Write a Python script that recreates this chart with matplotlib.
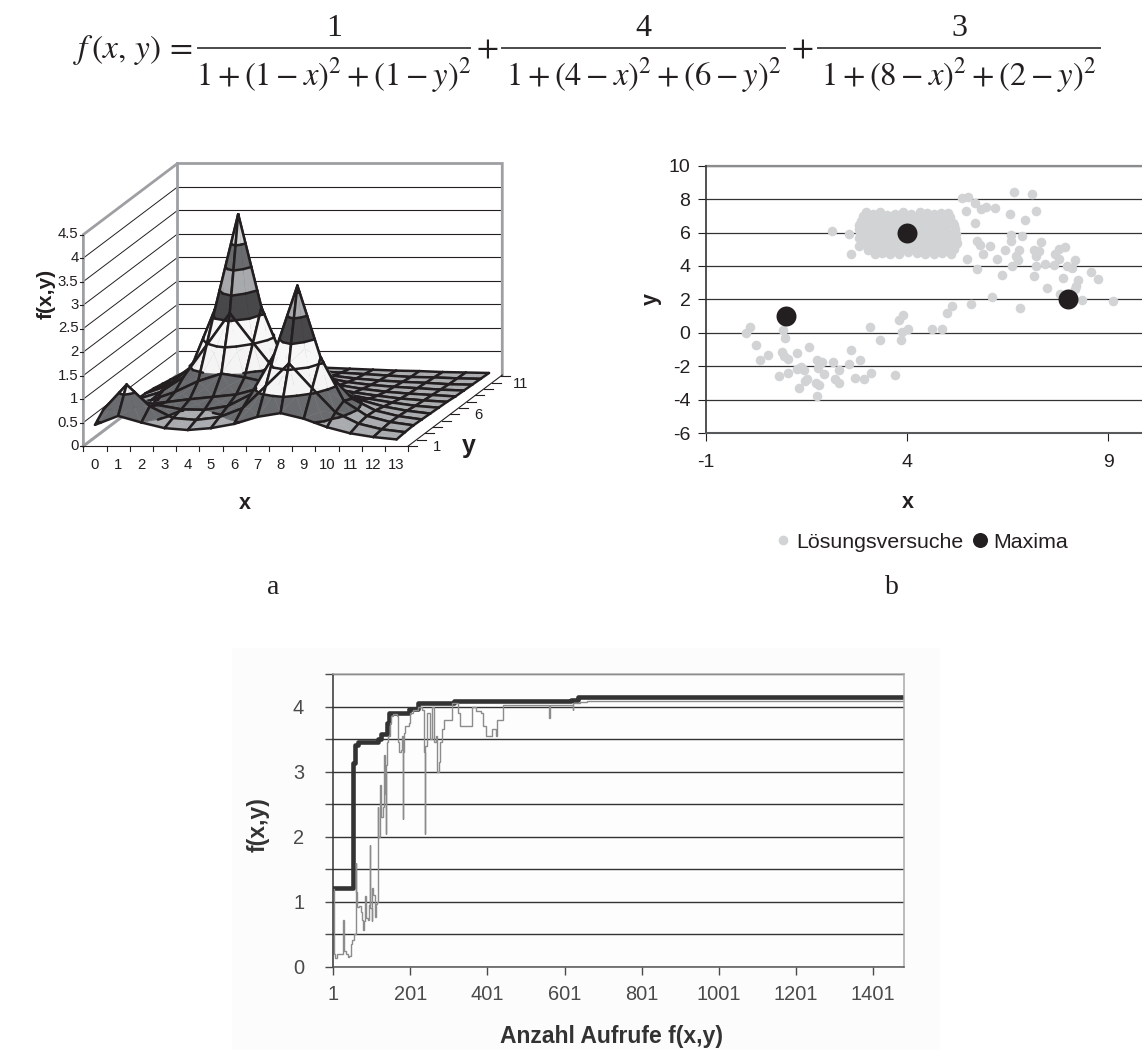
import matplotlib
matplotlib.use("Agg")
import matplotlib.pyplot as plt
import matplotlib.patches as patches
from matplotlib.collections import PolyCollection, LineCollection
from matplotlib.lines import Line2D

W, H = 1142, 1050
plt.rcParams['font.family'] = ['Liberation Sans', 'DejaVu Sans']
plt.rcParams['mathtext.fontset'] = 'stix'
plt.rcParams['axes.unicode_minus'] = False

# formula above the panels
eq_lhs = r'$f\,\left(x,\,y\right)\,=$'
eq_numer = ['1', '4', '3']
eq_denom = [r'$1+\left(1-x\right)^2+\left(1-y\right)^2$',
            r'$1+\left(4-x\right)^2+\left(6-y\right)^2$',
            r'$1+\left(8-x\right)^2+\left(2-y\right)^2$']

# panel a: surface heights, one row per y (front to back), one value per x
surf_x = list(range(14))
surf_y = list(range(12))
surf_z = [
    [.45, .64, .50, .38, .34, .38, .47, .62, .70, .58, .40, .27, .19, .14],
    [.64, 1.17, .71, .46, .42, .48, .67, 1.14, 1.62, 1.09, .58, .34, .22, .16],
    [.50, .71, .60, .51, .50, .58, .83, 1.68, 3.14, 1.61, .69, .37, .24, .17],
    [.37, .47, .53, .59, .64, .69, .82, 1.24, 1.67, 1.13, .60, .35, .23, .16],
    [.32, .44, .61, .84, 1.00, .92, .81, .81, .81, .65, .44, .30, .21, .15],
    [.32, .47, .79, 1.47, 2.15, 1.52, .91, .66, .54, .43, .33, .25, .18, .14],
    [.31, .48, .89, 2.10, 4.12, 2.14, .96, .58, .42, .33, .26, .20, .16, .13],
    [.28, .43, .74, 1.42, 2.09, 1.44, .78, .49, .35, .27, .21, .17, .14, .11],
    [.24, .34, .51, .73, .87, .75, .53, .38, .28, .22, .18, .15, .12, .10],
    [.20, .26, .34, .42, .46, .43, .35, .28, .22, .18, .15, .13, .10, .09],
    [.16, .19, .23, .27, .28, .27, .24, .21, .18, .15, .12, .11, .09, .08],
    [.13, .15, .17, .19, .19, .19, .18, .16, .14, .12, .11, .09, .08, .07],
]
band_levels = [0, .5, 1, 1.5, 2, 2.5, 3, 3.5, 4.5]
band_colors = ['#a9abae', '#6a6b6e', '#f4f4f4', '#f7f7f7',
               '#48484a', '#a7a9ac', '#6a6b6e', '#d1d3d4']
z_ticks = [0, .5, 1, 1.5, 2, 2.5, 3, 3.5, 4, 4.5]
z_tick_labels = ['0', '0.5', '1', '1.5', '2', '2.5', '3', '3.5', '4', '4.5']
y_tick_rows = [0, 5, 10]
y_tick_labels = ['1', '6', '11']

# panel b: solution attempts outside the dense block
try_x = [-.01, .10, .91, .97, .24, .55, .35, .90, .95, 1.04, 1.28, 1.56, .81, 1.05, 1.26, 1.38, 1.43,
         1.51, 1.47, 1.33, 1.73, 1.82, 1.77, 1.76, 1.88, 1.80, 1.94, 2.17, 2.31, 2.21, 2.32, 2.57,
         2.61, 2.83, 2.72, 2.93, 3.11, 3.70, 3.07, 3.34, 3.80, 3.91, 3.87, 4.02, 3.85, 4.62, 4.86,
         4.99, 5.13, 5.60, 6.12, 6.81, 2.15, 2.55, 2.61, 5.38, 5.51, 5.68, 5.47, 5.85, 5.96, 6.20,
         6.55, 6.66, 7.11, 7.21, 6.93, 5.70, 6.59, 6.85, 6.59, 5.74, 5.81, 6.07, 5.90, 6.43, 6.79,
         6.72, 6.77, 6.23, 5.48, 5.75, 6.36, 6.60, 7.32, 7.15, 7.27, 7.20, 7.20, 7.43, 7.66, 7.16,
         7.69, 7.77, 7.92, 7.78, 7.97, 8.09, 8.18, 8.57, 8.74, 7.87, 8.25, 8.19, 8.17, 7.48, 7.80,
         8.35, 9.13]
try_y = [-.02, .34, .18, -.34, -.76, -1.35, -1.61, -1.16, -1.38, -1.57, -1.22, -.84, -2.57, -2.41,
         -2.15, -2.05, -2.25, -2.77, -2.91, -3.33, -3.01, -3.11, -3.80, -1.61, -1.75, -2.11, -2.45,
         -1.77, -2.25, -2.75, -3.01, -1.87, -1.02, -1.61, -2.69, -2.77, -2.39, -2.55, .32, -.42,
         .78, 1.08, .02, .22, -.46, .22, .20, 1.18, 1.59, 1.71, 2.17, 1.49, 6.12, 5.92, 4.74, 8.05,
         8.11, 7.75, 7.29, 7.41, 7.51, 7.47, 7.11, 8.41, 8.33, 7.29, 6.73, 6.59, 5.84, 5.78, 5.50,
         5.52, 5.24, 5.18, 4.74, 4.94, 4.96, 4.60, 4.38, 4.44, 4.42, 3.82, 3.47, 4.02, 5.44, 4.96,
         4.92, 4.60, 4.02, 4.12, 4.06, 3.41, 4.72, 5.04, 5.16, 4.40, 4.00, 3.86, 4.36, 3.65, 3.21,
         3.29, 3.17, 2.81, 2.61, 2.65, 2.33, 1.99, 1.89]
# attempts crowded around the middle maximum
crowd_x = [2.98, 3.15, 3.33, 3.50, 3.70, 3.90, 4.10, 4.32, 4.50, 4.66, 4.84, 5.03,
           2.90, 3.08, 3.26, 3.44, 3.64, 3.84, 4.04, 4.24, 4.44, 4.64, 4.84, 5.08,
           2.86, 3.02, 3.20, 3.38, 3.58, 3.78, 3.98, 4.18, 4.38, 4.58, 4.78, 4.96, 5.15,
           2.82, 3.00, 3.18, 3.38, 3.58, 3.78, 3.98, 4.18, 4.38, 4.58, 4.78, 4.98, 5.18,
           2.80, 2.98, 3.16, 3.34, 3.54, 3.74, 3.94, 4.14, 4.34, 4.54, 4.74, 4.94, 5.20,
           2.84, 3.04, 3.24, 3.44, 3.64, 3.84, 4.04, 4.24, 4.44, 4.64, 4.84, 5.04, 5.22,
           2.82, 3.00, 3.18, 3.38, 3.58, 3.78, 3.98, 4.18, 4.38, 4.58, 4.78, 4.98, 5.22,
           2.88, 3.08, 3.28, 3.48, 3.68, 3.88, 4.08, 4.28, 4.48, 4.68, 4.88, 5.08, 5.24,
           2.81, 3.00, 3.20, 3.40, 3.60, 3.80, 4.00, 4.20, 4.40, 4.60, 4.80, 5.00, 5.22,
           3.02, 3.22, 3.42, 3.62, 3.82, 4.02, 4.22, 4.42, 4.62, 4.82, 5.02, 5.18,
           3.20, 3.38, 3.58, 3.80, 4.02, 4.24, 4.46, 4.66, 4.86, 5.10]
crowd_y = [7.22, 7.10, 7.20, 7.05, 7.12, 7.24, 7.08, 7.20, 7.18, 7.12, 7.14, 7.16,
           6.96, 6.90, 6.94, 6.92, 6.96, 6.90, 6.94, 6.92, 6.96, 6.90, 6.94, 6.90,
           6.70, 6.62, 6.72, 6.68, 6.64, 6.70, 6.66, 6.72, 6.64, 6.70, 6.68, 6.62, 6.60,
           6.45, 6.40, 6.46, 6.42, 6.44, 6.40, 6.46, 6.42, 6.44, 6.40, 6.46, 6.42, 6.44,
           6.20, 6.15, 6.24, 6.18, 6.22, 6.16, 6.20, 6.24, 6.16, 6.20, 6.18, 6.22, 6.20,
           5.95, 5.92, 5.98, 5.94, 5.96, 5.92, 5.98, 5.94, 5.96, 5.92, 5.98, 5.94, 5.90,
           5.70, 5.74, 5.66, 5.72, 5.68, 5.74, 5.70, 5.66, 5.72, 5.68, 5.74, 5.70, 5.60,
           5.45, 5.48, 5.42, 5.46, 5.44, 5.48, 5.42, 5.46, 5.44, 5.48, 5.42, 5.46, 5.36,
           5.22, 5.20, 5.26, 5.18, 5.24, 5.20, 5.16, 5.22, 5.18, 5.24, 5.16, 5.20, 5.30,
           4.98, 4.96, 5.00, 4.94, 4.98, 4.94, 5.00, 4.96, 4.98, 4.94, 4.98, 5.00,
           4.72, 4.80, 4.74, 4.70, 4.82, 4.76, 4.70, 4.72, 4.78, 4.74]
max_x = [1, 4, 8]
max_y = [1, 6, 2]

# panel c: best and current value per call
best_x = [1, 51, 58, 65, 117, 125, 140, 145, 198, 220, 314, 619, 636, 1481]
best_y = [1.21, 3.13, 3.41, 3.45, 3.50, 3.58, 3.75, 3.90, 3.97, 4.05, 4.08, 4.10, 4.14, 4.14]
cur_x = [1, 3, 6, 10, 27, 28, 33, 38, 43, 47, 50, 54, 59, 61, 63, 68, 72, 75, 77, 80, 84, 86, 90, 93,
         96, 97, 101, 102, 105, 108, 110, 113, 115, 116, 117, 118, 122, 124, 130, 132, 134, 136, 137,
         138, 140, 142, 147, 150, 155, 165, 168, 172, 176, 180, 181, 182, 184, 188, 197, 200, 208,
         220, 231, 236, 238, 240, 244, 253, 258, 262, 267, 271, 275, 277, 283, 287, 300, 310, 325,
         330, 362, 370, 385, 390, 397, 412, 423, 426, 436, 441, 555, 560, 562, 620, 622, 624, 640,
         660, 1481]
cur_y = [1.2, .2, .14, .2, .72, .25, .2, .15, .17, .35, .42, .5, 1.6, 1.15, .92, .93, .85, .72, .57,
         .7, 1.09, .75, .72, .95, 1.87, .9, .7, 1.22, 1.1, .85, .77, .97, 1.0, 2.45, 1.83, 2.0, 2.8,
         2.3, 2.45, 3.25, 2.65, 3.0, 2.05, 3.1, 3.45, 3.55, 3.75, 3.85, 3.88, 3.85, 3.45, 3.3, 3.33,
         3.55, 2.27, 3.3, 3.6, 3.7, 3.75, 3.9, 3.95, 4.0, 3.95, 3.3, 2.05, 3.4, 3.9, 3.5, 4.0, 3.45,
         3.55, 3.0, 3.15, 3.45, 3.65, 3.8, 3.8, 4.05, 3.9, 3.7, 4.0, 3.93, 3.9, 3.7, 3.55, 3.65, 3.55,
         3.8, 3.8, 4.02, 4.02, 3.82, 4.02, 4.02, 3.95, 4.05, 4.07, 4.09, 4.09]
c_xticks = [1, 201, 401, 601, 801, 1001, 1201, 1401]


def px_axes(fig, left, top, right, bottom):
    return fig.add_axes([left / W, 1 - bottom / H, (right - left) / W, (bottom - top) / H])


def project(x, y, z):
    # oblique view of the spreadsheet 3D chart, result in image pixels
    return 95 + 23.2 * x + 8.4 * y, 446 - 47 * z - 6.34 * y


def clip_band(tri, lo, hi):
    poly = tri
    for level, keep_above in ((lo, True), (hi, False)):
        out = []
        for i in range(len(poly)):
            p, q = poly[i], poly[(i + 1) % len(poly)]
            p_in = p[2] >= level if keep_above else p[2] <= level
            q_in = q[2] >= level if keep_above else q[2] <= level
            if p_in:
                out.append(p)
            if p_in != q_in:
                t = (level - p[2]) / (q[2] - p[2])
                out.append((p[0] + t * (q[0] - p[0]), p[1] + t * (q[1] - p[1]), level))
        poly = out
        if not poly:
            break
    return poly


def level_segment(tri, level):
    pts = []
    for i in range(3):
        p, q = tri[i], tri[(i + 1) % 3]
        if (p[2] - level) * (q[2] - level) < 0:
            t = (level - p[2]) / (q[2] - p[2])
            pts.append((p[0] + t * (q[0] - p[0]), p[1] + t * (q[1] - p[1]), level))
    return pts if len(pts) == 2 else None


def draw_surface(ax):
    line_col = '#231f20'
    order = 10
    for j in range(len(surf_y) - 2, -1, -1):
        for i in range(len(surf_x) - 1):
            c00 = (surf_x[i], surf_y[j], surf_z[j][i])
            c10 = (surf_x[i + 1], surf_y[j], surf_z[j][i + 1])
            c01 = (surf_x[i], surf_y[j + 1], surf_z[j + 1][i])
            c11 = (surf_x[i + 1], surf_y[j + 1], surf_z[j + 1][i + 1])
            mid = (i + .5, j + .5, (c00[2] + c10[2] + c01[2] + c11[2]) / 4)
            tris = [(c01, c11, mid), (c00, c01, mid), (c10, c11, mid), (c00, c10, mid)]
            polys, cols, segs = [], [], []
            for tri in tris:
                for b in range(len(band_colors)):
                    part = clip_band(list(tri), band_levels[b], band_levels[b + 1])
                    if len(part) >= 3:
                        polys.append([project(*p) for p in part])
                        cols.append(band_colors[b])
                for level in band_levels[1:-1]:
                    seg = level_segment(tri, level)
                    if seg:
                        segs.append([project(*p) for p in seg])
            ax.add_collection(PolyCollection(polys, facecolors=cols, edgecolors=cols,
                                             linewidths=.3, zorder=order))
            edges = [[project(*c00), project(*c10)], [project(*c10), project(*c11)],
                     [project(*c11), project(*c01)], [project(*c01), project(*c00)]]
            ax.add_collection(LineCollection(segs + edges, colors=line_col, linewidths=1.8,
                                             capstyle='round', zorder=order + 1))
            order += 2


def draw_panel_a(fig):
    ax = px_axes(fig, 30, 150, 560, 530)
    ax.set_xlim(30, 560)
    ax.set_ylim(530, 150)
    ax.axis('off')
    wall = '#9d9fa2'
    xa, xb = -.5, 13.5
    depth = 11.2
    # grid on the back and side wall
    for z in z_ticks[:-1]:
        if z == 0:
            continue
        p0 = project(xa, 0, z)
        p1 = project(xa, depth, z)
        p2 = project(xb, depth, z)
        ax.plot([p0[0], p1[0]], [p0[1], p1[1]], color='#231f20', lw=.7)
        ax.plot([p1[0], p2[0]], [p1[1], p2[1]], color='#231f20', lw=.8)
    top = z_ticks[-1]
    pts = [project(xa, 0, 0), project(xa, 0, top), project(xa, depth, top), project(xb, depth, top),
           project(xb, depth, 0), project(xa, depth, 0), project(xa, depth, top)]
    ax.plot(*zip(*pts[:5]), color=wall, lw=2, solid_joinstyle='miter')
    ax.plot(*zip(*pts[5:]), color=wall, lw=2)
    p0, p1 = project(xa, 0, 0), project(xa, depth, 0)
    ax.plot([p0[0], p1[0]], [p0[1], p1[1]], color=wall, lw=2.2)

    draw_surface(ax)

    # axis lines, ticks and labels
    x0, y0 = project(xa, 0, 0)
    x1, _ = project(xb, 0, 0)
    ax.plot([x0, x1], [y0, y0], color='#231f20', lw=.8, zorder=200)
    for k in range(15):
        tx, _ = project(xa + k, 0, 0)
        ax.plot([tx, tx], [y0, y0 + 5], color='#231f20', lw=.8, zorder=200)
    for k in surf_x:
        tx, _ = project(k, 0, 0)
        ax.text(tx, y0 + 19, str(k), ha='center', va='center', fontsize=10.7, color='#231f20')
    for z, lab in zip(z_ticks, z_tick_labels):
        _, ty = project(xa, 0, z)
        ax.plot([x0 - 3, x0], [ty, ty], color='#231f20', lw=.8)
        ax.text(x0 - 5, ty, lab, ha='right', va='center', fontsize=10.7, color='#231f20')
    xe, ye = project(xb, 0, 0)
    xf, yf = project(xb, depth, 0)
    ax.plot([xe, xf], [ye, yf], color='#231f20', lw=.8, zorder=200)
    for k in range(12):
        tx, ty = project(xb, k, 0)
        ax.plot([tx, tx + 9], [ty, ty], color='#231f20', lw=.8, zorder=200)
    for k, lab in zip(y_tick_rows, y_tick_labels):
        tx, ty = project(xb, k + .3, 0)
        ax.text(tx + 26, ty + 3, lab, ha='center', va='center', fontsize=10.7, color='#231f20')
    ax.text(245, 503, 'x', ha='center', va='center', fontsize=15.5, fontweight='bold', color='#231f20')
    ax.text(469, 446, 'y', ha='center', va='center', fontsize=18, fontweight='bold', color='#231f20')
    ax.text(46, 294, 'f(x,y)', ha='center', va='center', rotation=90, fontsize=15,
            fontweight='bold', color='#231f20')


def draw_panel_b(fig):
    ax = px_axes(fig, 705.7, 165.7, 1142, 433)
    ax.set_xlim(-1, 9.84)
    ax.set_ylim(-6, 10)
    for s in ('top', 'right'):
        ax.spines[s].set_visible(False)
    ax.spines['left'].set_color('#333333')
    ax.spines['bottom'].set_color('#58595b')
    ax.spines['left'].set_linewidth(1.2)
    ax.spines['bottom'].set_linewidth(1.5)
    ax.set_yticks(range(-6, 11, 2))
    ax.set_xticks([-1, 4, 9])
    ax.tick_params(axis='both', labelsize=14, colors='#231f20', length=6, width=.8, pad=5)
    ax.tick_params(axis='x', pad=9)
    ax.grid(axis='y', color='#333333', lw=.9)
    ax.set_axisbelow(True)
    ax.axhline(10, color='#8a8c8e', lw=1.6, clip_on=False)
    ax.scatter(crowd_x + try_x, crowd_y + try_y, s=48, color='#d1d3d4', linewidths=0, zorder=3, clip_on=False)
    ax.scatter(max_x, max_y, s=207, color='#231f20', linewidths=0, zorder=4)
    fig.text(908 / W, 1 - 503 / H, 'x', ha='center', va='center', fontsize=15.5, fontweight='bold', color='#231f20')
    fig.text(651 / W, 1 - 299 / H, 'y', ha='center', va='center', rotation=90, fontsize=15.5,
             fontweight='bold', color='#231f20')
    handles = [Line2D([], [], ls='', marker='o', ms=7, color='#d1d3d4', mew=0),
               Line2D([], [], ls='', marker='o', ms=10.8, color='#231f20', mew=0)]
    fig.legend(handles, ['Lösungsversuche', 'Maxima'], ncol=2, frameon=False, fontsize=15.4,
               loc='center', bbox_to_anchor=(918.5 / W, 1 - 542 / H), handletextpad=-.05,
               columnspacing=.15, handlelength=1.3, labelcolor='#231f20')


def draw_panel_c(fig):
    fig.add_artist(patches.Rectangle((232 / W, 0), (940 - 232) / W, 1 - 648 / H, transform=fig.transFigure,
                                     facecolor='#fcfcfc', edgecolor='none', zorder=-5))
    ax = px_axes(fig, 333.3, 674, 903.7, 967)
    ax.set_facecolor('#fdfdfd')
    ax.set_xlim(1, 1481)
    ax.set_ylim(0, 4.5)
    ax.set_yticks([k * .5 for k in range(10)])
    ax.set_yticklabels(['0', '', '1', '', '2', '', '3', '', '4', ''])
    ax.set_xticks(c_xticks)
    ax.tick_params(axis='both', labelsize=14.4, colors='#4a4a4a', length=6, width=1, pad=7)
    ax.tick_params(axis='y', pad=15)
    ax.grid(axis='y', color='#333333', lw=1)
    ax.set_axisbelow(True)
    ax.spines['left'].set_color('#333333')
    ax.spines['bottom'].set_color('#555555')
    ax.spines['top'].set_color('#aaaaaa')
    ax.spines['right'].set_color('#aaaaaa')
    for s in ax.spines.values():
        s.set_linewidth(1.1)
    ax.step(best_x, best_y, where='post', color='#333333', lw=3.3)
    ax.step(cur_x, cur_y, where='post', color='#8c8c8c', lw=1, solid_joinstyle='miter')
    fig.text(612 / W, 1 - 1037 / H, 'Anzahl Aufrufe f(x,y)', ha='center', va='center', fontsize=16.5,
             fontweight='bold', color='#333333')
    fig.text(258 / W, 1 - 825 / H, 'f(x,y)', ha='center', va='center', rotation=90, fontsize=16.5,
             fontweight='bold', color='#333333')


def draw_formula(fig):
    ink = '#231f20'
    fig.text(73 / W, 1 - 50 / H, eq_lhs, ha='left', va='center', fontsize=24, color=ink)
    spans = [(198, 470), (502, 785), (818, 1100)]
    for (x0, x1), num, den in zip(spans, eq_numer, eq_denom):
        fig.add_artist(Line2D([x0 / W, x1 / W], [1 - 47.5 / H] * 2, color='#4a4a4c', lw=1.4))
        fig.text((x0 + x1) / 2 / W, 1 - 28 / H, num, ha='center', va='center', fontsize=23,
                 family='Liberation Serif', color=ink)
        fig.text((x0 + x1) / 2 / W, 1 - 75 / H, den, ha='center', va='center', fontsize=23.5, color=ink)
    for px in (487, 802):
        fig.text(px / W, 1 - 49 / H, '$+$', ha='center', va='center', fontsize=23, color=ink)


fig = plt.figure(figsize=(W / 100, H / 100), dpi=100)

draw_formula(fig)
draw_panel_a(fig)
draw_panel_b(fig)
draw_panel_c(fig)

fig.text(273 / W, 1 - 587 / H, 'a', ha='center', va='center', fontsize=20, family='Liberation Serif', color='#231f20')
fig.text(892 / W, 1 - 587 / H, 'b', ha='center', va='center', fontsize=20, family='Liberation Serif', color='#231f20')

fig.savefig('out.png', dpi=100)
